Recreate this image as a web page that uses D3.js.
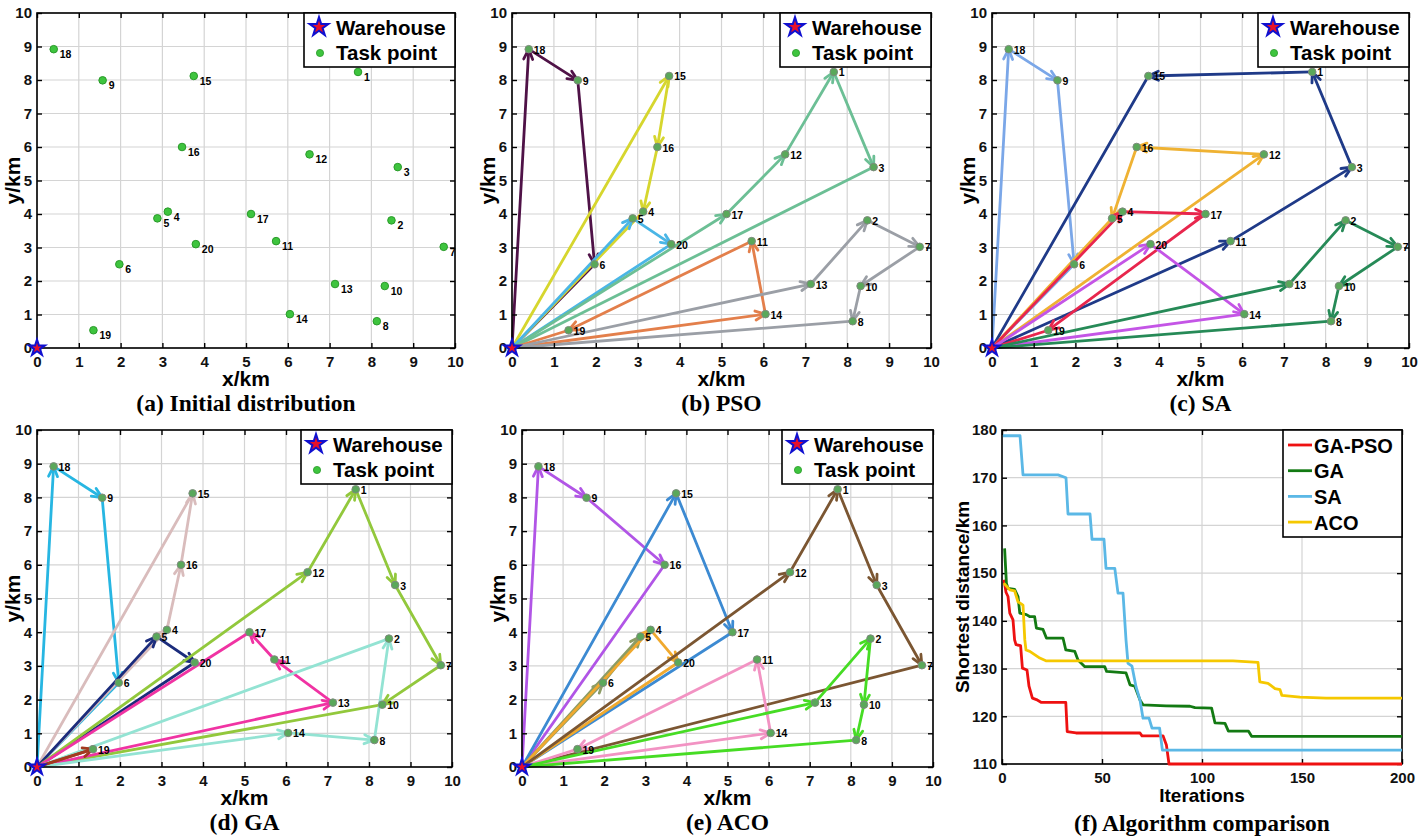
<!DOCTYPE html>
<html><head><meta charset="utf-8">
<script src="https://cdn.jsdelivr.net/npm/d3@7"></script>
<style>
body{margin:0;background:#fff;}
svg{display:block;}
</style></head><body>
<svg id="chart" width="1424" height="836"></svg>
<script>
// ================= DATA =================
const taskIds = [1,2,3,4,5,6,7,8,9,10,11,12,13,14,15,16,17,18,19,20];
const taskX = [7.68,8.48,8.63,3.13,2.88,1.97,9.73,8.13,1.57,8.32,5.72,6.52,7.13,6.05,3.75,3.47,5.12,0.40,1.35,3.80];
const taskY = [8.24,3.81,5.40,4.07,3.87,2.50,3.02,0.80,7.99,1.85,3.19,5.78,1.91,1.01,8.12,6.00,4.00,8.92,0.53,3.10];
const depotXY = [0,0];
const mapTicks = [0,1,2,3,4,5,6,7,8,9,10];

const psoRoutes = [[18,9,6],[15,16,4],[5,20],[17,12,1,3],[14,11,19],[13,2,7,10,8]];
const psoColors = ["#4f1247","#d6d62e","#4ab6e6","#6cbf95","#e37f4b","#9b9fa6"];

const saRoutes = [[18,9,6],[11,3,1,15],[12,16,5],[4,17,19],[20,14],[13,2,7,10,8]];
const saColors = ["#7ba7e8","#1f3a88","#efb233","#e8264d","#c455e6","#268a57"];

const gaRoutes = [[18,9,6],[4,16,15],[5,20],[12,1,3,7,10],[13,11,17],[14,8,2],[19]];
const gaColors = ["#27b6e2","#d9bcbc","#1b2c7c","#92c83c","#f033a3","#93e3d3","#a33a1f"];

const acoRoutes = [[18,9,16],[15,17],[6,5],[4,20],[12,1,3,7],[14,11,19],[13,2,10,8]];
const acoColors = ["#b155e6","#3c8ad2","#8c9c64","#f0a92e","#7b5632","#f293c3","#46dc24"];

const legendMapLabels = ["Warehouse","Task point"];

// convergence curves (iteration, shortest distance)
const gapsoIter = [1,2,3,3.9,5.5,6.3,7,9.3,10.2,12.5,13.5,15.2,17.2,19.7,31.9,32.6,37,69,70,80.5,82.2,83.5,200];
const gapsoDist = [148.6,146,145.1,141.6,140.2,136,135,134.8,130.1,129.7,126.3,123.8,123.5,122.9,122.9,116.8,116.5,116.5,115.9,115.9,114,110,110];
const gaIter = [1.3,2.2,3,6.3,8,8.9,12.2,13.8,16.3,17.2,20.5,22.2,30.5,31.9,36.4,38,41.4,51.4,52.3,62,64,66.4,69,70.5,82,94,96.5,104.8,106.5,111.5,113.2,123.2,124.8,200];
const gaDist = [155.2,147.9,146.8,146.6,145.1,141.6,141.3,140.9,140.9,138.5,138.2,136.4,136.4,133.9,133.6,131.8,130.4,130.4,129.4,129.1,126.6,126.3,123.4,122.4,122.2,122.1,121.8,121.7,118.6,118.5,116.9,116.9,115.8,115.8];
const saIter = [0.5,9,10.5,28,32,33,44,45,51,52,56.4,58,60.5,62,63,65,67,69,70.5,73.5,75,78.8,80.2,200];
const saDist = [178.8,178.8,170.6,170.6,170.0,162.4,162.4,157.1,157.1,151.0,151.0,145.8,145.8,136,131.1,130.5,126.2,123.4,119.6,119.6,117.5,117.5,112.9,112.9];
const acoIter = [0.9,3.9,6.3,8,10.5,11.4,12,13.9,18.9,22.2,115.5,128,128.9,133,136.5,139,139.9,149,162,200];
const acoDist = [147.9,146.5,146.3,144.0,143.3,136,133.9,133.6,132.2,131.6,131.6,131.3,127.2,126.9,125.8,125.6,124.4,124.0,123.8,123.8];
const convNames = ["GA-PSO","GA","SA","ACO"];
const convColors = ["#ee1111","#137a13","#5bb8e6","#f5c800"];
const convXTicks = [0,50,100,150,200];
const convYTicks = [110,120,130,140,150,160,170,180];

// ================= DRAW =================
const FONT = '"Liberation Sans", Arial, sans-serif';
const SERIF = '"Liberation Serif", "Times New Roman", serif';
const svg = d3.select('#chart');
svg.append('rect').attr('width',1424).attr('height',836).attr('fill','#fff');

function styleAxis(sel){
  sel.select('.domain').remove();
  sel.selectAll('.tick line').attr('stroke','#000').attr('stroke-width',1.4);
  sel.selectAll('.tick text').attr('font-family',FONT).attr('font-size',15)
     .attr('font-weight','bold').attr('fill','#111');
}

function frame(g, x, y, xt, yt){
  const [x0,x1] = x.range();
  const y1 = y.range()[0], y0 = y.range()[1];
  const grid = g.append('g');
  grid.selectAll('line.gx').data(xt).join('line').attr('class','gx')
    .attr('x1',d=>x(d)).attr('x2',d=>x(d)).attr('y1',y0).attr('y2',y1)
    .attr('stroke','#d4d4d4').attr('stroke-width',1.2);
  grid.selectAll('line.gy').data(yt).join('line').attr('class','gy')
    .attr('y1',d=>y(d)).attr('y2',d=>y(d)).attr('x1',x0).attr('x2',x1)
    .attr('stroke','#d4d4d4').attr('stroke-width',1.2);
}

function axesOnTop(g, x, y, xt, yt, b, opt){
  g.append('g').attr('transform',`translate(0,${b.y1})`)
    .call(d3.axisBottom(x).tickValues(xt).tickSizeInner(-5).tickSizeOuter(0).tickPadding(8))
    .call(styleAxis);
  g.append('g').attr('transform',`translate(${b.x0},0)`)
    .call(d3.axisLeft(y).tickValues(yt).tickSizeInner(-5).tickSizeOuter(0).tickPadding(opt.ypad))
    .call(styleAxis);
  g.append('g').attr('transform',`translate(0,${b.y0})`)
    .call(d3.axisTop(x).tickValues(xt).tickSizeInner(-5).tickSizeOuter(0).tickFormat(''))
    .call(styleAxis);
  g.append('g').attr('transform',`translate(${b.x1},0)`)
    .call(d3.axisRight(y).tickValues(yt).tickSizeInner(-5).tickSizeOuter(0).tickFormat(''))
    .call(styleAxis);
  g.append('rect').attr('x',b.x0).attr('y',b.y0).attr('width',b.x1-b.x0).attr('height',b.y1-b.y0)
    .attr('fill','none').attr('stroke','#000').attr('stroke-width',1.6);
}

function labels(g, b, xl, yl, title, o){
  const cx = (b.x0+b.x1)/2, cy = (b.y0+b.y1)/2;
  g.append('text').attr('x',cx).attr('y',b.y1+o.xlab).attr('text-anchor','middle')
    .attr('font-family',FONT).attr('font-weight','bold').attr('font-size',o.fs).text(xl);
  g.append('text').attr('transform',`translate(${b.x0-o.ylab},${cy}) rotate(-90)`)
    .attr('text-anchor','middle').attr('dy','0.35em')
    .attr('font-family',FONT).attr('font-weight','bold').attr('font-size',o.fs).text(yl);
  g.append('text').attr('x',cx).attr('y',b.y1+o.tlab).attr('text-anchor','middle')
    .attr('font-family',SERIF).attr('font-weight','bold').attr('font-size',23.5).text(title);
}

const star = d3.symbol().type(d3.symbolStar);

function mapLegend(g, b){
  const w = 151, h = 54;
  const lx = b.x1 - w, ly = b.y0;
  const L = g.append('g');
  L.append('rect').attr('x',lx).attr('y',ly).attr('width',w).attr('height',h)
    .attr('fill','#fff').attr('stroke','#000').attr('stroke-width',1.6);
  L.append('path').attr('d',star.size(110)()).attr('transform',`translate(${lx+15},${ly+14})`)
    .attr('fill','#e8102a').attr('stroke','#1010d0').attr('stroke-width',2);
  L.append('circle').attr('cx',lx+16).attr('cy',ly+40).attr('r',3.6)
    .attr('fill','#3ec43e').attr('stroke','#2a9a2a').attr('stroke-width',0.8);
  L.selectAll('text').data(legendMapLabels).join('text')
    .attr('x',lx+32).attr('y',(d,i)=>ly+22+i*25)
    .attr('font-family',FONT).attr('font-weight','bold').attr('font-size',20.5).attr('fill','#000')
    .text(d=>d);
}

function nodeXY(id){ return id===0 ? depotXY : [taskX[id-1], taskY[id-1]]; }

function mapPanel(b, routes, colors, title, initial){
  const g = svg.append('g');
  const x = d3.scaleLinear().domain([0,10]).range([b.x0,b.x1]);
  const y = d3.scaleLinear().domain([0,10]).range([b.y1,b.y0]);
  frame(g, x, y, mapTicks, mapTicks);
  const R = g.append('g');
  routes.forEach((r,i)=>{
    const seq = [0, ...r, 0].map(nodeXY);
    const col = colors[i];
    for(let k=0;k<seq.length-1;k++){
      const ax = x(seq[k][0]), ay = y(seq[k][1]);
      const bx = x(seq[k+1][0]), by = y(seq[k+1][1]);
      R.append('line').attr('x1',ax).attr('y1',ay).attr('x2',bx).attr('y2',by)
        .attr('stroke',col).attr('stroke-width',2.8).attr('stroke-linecap','round');
      if(k < seq.length-2){
        const a = Math.atan2(by-ay, bx-ax), L = 11, t = 0.42;
        const p1 = [bx - L*Math.cos(a-t), by - L*Math.sin(a-t)];
        const p2 = [bx - L*Math.cos(a+t), by - L*Math.sin(a+t)];
        R.append('path').attr('d',`M${p1[0]},${p1[1]}L${bx},${by}L${p2[0]},${p2[1]}`)
          .attr('fill','none').attr('stroke',col).attr('stroke-width',2.8)
          .attr('stroke-linejoin','miter').attr('stroke-linecap','round');
      }
    }
  });
  const P = g.append('g');
  P.selectAll('circle').data(taskIds).join('circle')
    .attr('cx',d=>x(taskX[d-1])).attr('cy',d=>y(taskY[d-1])).attr('r',3.8)
    .attr('fill', initial ? '#3ec43e' : '#5aa85a')
    .attr('stroke', initial ? '#2a9a2a' : '#7d8a7d').attr('stroke-width',1);
  P.selectAll('text').data(taskIds).join('text')
    .attr('x',d=>x(taskX[d-1])+(initial?6:5)).attr('y',d=>y(taskY[d-1])+(initial?9:4.5))
    .attr('font-family',FONT).attr('font-weight','bold').attr('font-size',10.5).attr('fill','#000')
    .text(d=>d);
  axesOnTop(g, x, y, mapTicks, mapTicks, b, {ypad:5});
  g.append('path').attr('d',star.size(80)()).attr('transform',`translate(${x(depotXY[0])},${y(depotXY[1])})`)
    .attr('fill','#e8102a').attr('stroke','#1010d0').attr('stroke-width',2);
  mapLegend(g, b);
  labels(g, b, 'x/km', 'y/km', title, {fs:21, xlab:38, ylab:24, tlab:63});
}

mapPanel({x0:37,x1:455,y0:13,y1:348}, [], [], '(a) Initial distribution', true);
mapPanel({x0:512,x1:931,y0:13,y1:348}, psoRoutes, psoColors, '(b) PSO', false);
mapPanel({x0:992,x1:1409,y0:13,y1:348}, saRoutes, saColors, '(c) SA', false);
mapPanel({x0:37,x1:452,y0:430,y1:767}, gaRoutes, gaColors, '(d) GA', false);
mapPanel({x0:522,x1:933,y0:430,y1:767}, acoRoutes, acoColors, '(e) ACO', false);

// ---- (f) convergence ----
(function(){
  const b = {x0:1002,x1:1402,y0:430,y1:764};
  const g = svg.append('g');
  const x = d3.scaleLinear().domain([0,200]).range([b.x0,b.x1]);
  const y = d3.scaleLinear().domain([110,180]).range([b.y1,b.y0]);
  frame(g, x, y, convXTicks, convYTicks);
  axesOnTop(g, x, y, convXTicks, convYTicks, b, {ypad:5});
  const line = d3.line().x(d=>x(d[0])).y(d=>y(d[1]));
  const series = [[gapsoIter,gapsoDist],[gaIter,gaDist],[saIter,saDist],[acoIter,acoDist]];
  series.forEach((s,i)=>{
    g.append('path').datum(d3.zip(s[0],s[1])).attr('d',line)
      .attr('fill','none').attr('stroke',convColors[i]).attr('stroke-width',2.8)
      .attr('stroke-linejoin','round');
  });
  const lx = 1283, ly = 430, w = 119, h = 107;
  const L = g.append('g');
  L.append('rect').attr('x',lx).attr('y',ly).attr('width',w).attr('height',h)
    .attr('fill','#fff').attr('stroke','#000').attr('stroke-width',1.6);
  convNames.forEach((n,i)=>{
    const cy = ly + 15 + i*25.7;
    L.append('line').attr('x1',lx+5).attr('x2',lx+29).attr('y1',cy).attr('y2',cy)
      .attr('stroke',convColors[i]).attr('stroke-width',2.8);
    L.append('text').attr('x',lx+31).attr('y',cy+7.5)
      .attr('font-family',FONT).attr('font-weight','bold').attr('font-size',20).text(n);
  });
  labels(g, b, 'Iterations', 'Shortest distance/km', '(f) Algorithm comparison',
    {fs:19, xlab:38, ylab:40, tlab:67});
})();
</script>
</body></html>
